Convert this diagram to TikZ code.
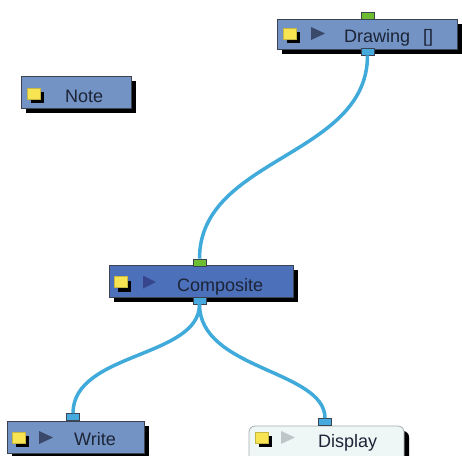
\documentclass[tikz,border=0pt]{standalone}
\usepackage{xcolor}
\usepackage{fontspec}
\setmainfont{Liberation Sans}
\usepackage{tikz}

\definecolor{boxBlue}{RGB}{115,147,196}
\definecolor{compBlue}{RGB}{76,112,186}
\definecolor{edgeGrey}{RGB}{60,68,84}
\definecolor{wireBlue}{RGB}{64,170,218}
\definecolor{portBlue}{RGB}{70,170,222}
\definecolor{portGreen}{RGB}{108,190,48}
\definecolor{lampYellow}{RGB}{248,228,82}
\definecolor{triDark}{RGB}{58,72,105}
\definecolor{triComp}{RGB}{55,70,140}
\definecolor{triLight}{RGB}{190,198,200}
\definecolor{dispFill}{RGB}{238,246,246}
\definecolor{dispEdge}{RGB}{165,175,175}
\definecolor{labelInk}{RGB}{28,36,54}

\begin{document}
\begin{tikzpicture}[
            x=1pt, y=-1pt,
            module/.style={draw=edgeGrey, line width=0.8pt, fill=boxBlue, minimum height=32pt, inner sep=0pt, outer sep=0pt},
            viewer/.style={module, fill=dispFill, draw=dispEdge, rounded corners=6pt},
            port/.style={draw=edgeGrey, line width=0.6pt, minimum width=13pt, minimum height=7pt, inner sep=0pt},
            inport/.style={port, fill=portGreen},
            outport/.style={port, fill=portBlue},
            lamp/.style={draw=lampYellow!80!black, line width=0.4pt, fill=lampYellow, minimum width=13pt, minimum height=11pt, inner sep=0pt, outer sep=0pt},
            wire/.style={wireBlue, line width=3.5pt},
            lbl/.style={anchor=base west, inner sep=0pt, text=labelInk, font=\fontsize{18}{20}\selectfont}
        ]
            \useasboundingbox (0,0) rectangle (462,455);
            \fill[white] (0,0) rectangle (462,455);
            \clip (0,0) rectangle (462,455);

            % black drop shadows
            \fill[black] (282,24) rectangle (462,54);
            \fill[black] (26,81) rectangle (136,113);
            \fill[black] (114,270) rectangle (298,302);
            \fill[black] (12,426) rectangle (149,458);
            \fill[black, rounded corners=6pt] (254,431) rectangle (409,471);

            % modules
            \node[module, minimum width=180pt, minimum height=30pt] (drawing) at (367,34) {};
            \node[module, minimum width=110pt] (note) at (76,92) {};
            \node[module, fill=compBlue, minimum width=184pt] (comp) at (201,281) {};
            \node[module, minimum width=137pt] (write) at (75.5,437) {};
            \node[viewer, minimum width=155pt, minimum height=40pt] (disp) at (326.5,446) {};

            % ports
            \node[inport] (drawIn) at (367.5,15.5) {};
            \node[outport] (drawOut) at (367.5,51.5) {};
            \node[inport] (compIn) at (199.5,262.5) {};
            \node[outport] (compOut) at (199.5,300.5) {};
            \node[outport] (writeIn) at (73,417) {};
            \node[outport] (dispIn) at (325,422) {};

            % wires
            \draw[wire] (drawOut.south) .. controls (367.5,157) and (199.5,157) .. (compIn.north);
            \draw[wire] (compOut.south) .. controls (199.5,358) and (73,352) .. (writeIn.north);
            \draw[wire] (compOut.south) .. controls (199.5,370) and (325,370) .. (dispIn.north);

            % lamps and play arrows
            \foreach \lx/\ly in {289.5/33.5, 33.5/93.5, 120.5/282, 18.5/437.5, 261.5/437.5}
                \fill[black] (\lx-2.5,\ly-1.5) rectangle (\lx+10.5,\ly+9.5);
            \node[lamp] (drawLamp) at (289.5,33.5) {};
            \node[lamp] (noteLamp) at (33.5,93.5) {};
            \node[lamp] (compLamp) at (120.5,282) {};
            \node[lamp] (writeLamp) at (18.5,437.5) {};
            \node[lamp] (dispLamp) at (261.5,437.5) {};
            \fill[triDark] (311,27) -- (325,33.5) -- (311,40) -- cycle;
            \fill[triComp] (143,275.5) -- (156,282) -- (143,288.5) -- cycle;
            \fill[triDark] (39,431) -- (53,437.5) -- (39,444) -- cycle;
            \fill[triLight] (281,431) -- (295,437.5) -- (281,444) -- cycle;

            % labels
            \node[lbl] (drawTxt) at (344,42) {Drawing\hspace{13pt}[]};
            \node[lbl] (noteTxt) at (65,102) {Note};
            \node[lbl] (compTxt) at (177,291) {Composite};
            \node[lbl] (writeTxt) at (74,445) {Write};
            \node[lbl] (dispTxt) at (318,447) {Display};
        \end{tikzpicture}
\end{document}
